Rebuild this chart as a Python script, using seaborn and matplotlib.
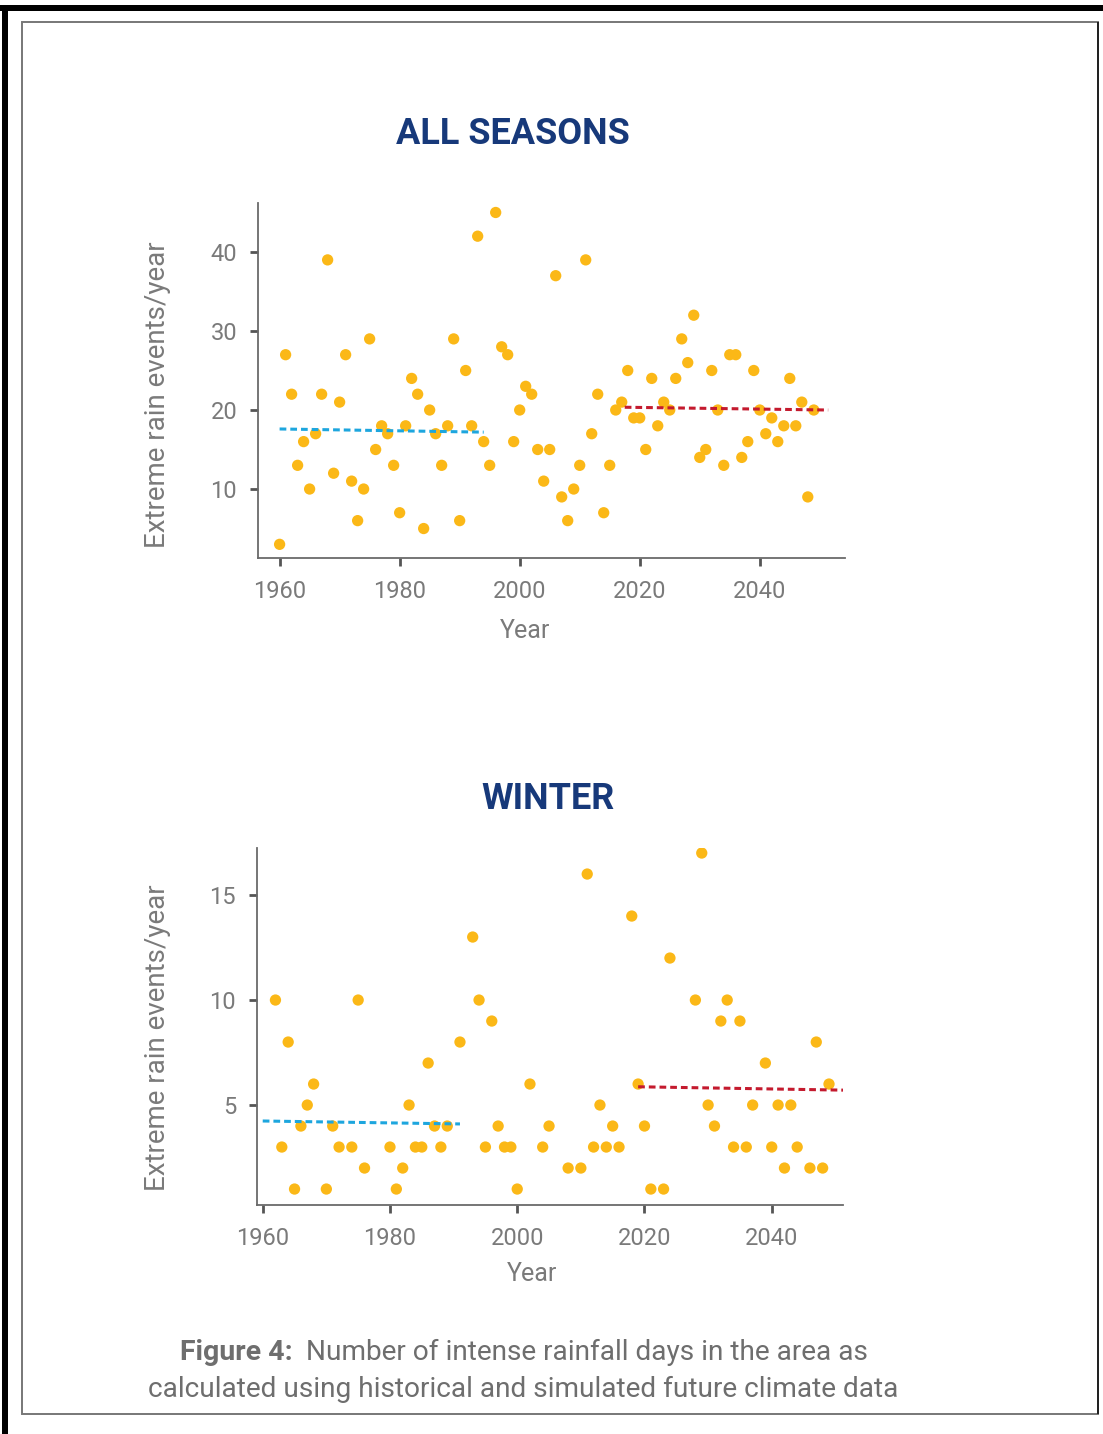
import matplotlib
matplotlib.use("Agg")
import matplotlib.pyplot as plt
import seaborn as sns
import pandas as pd
from matplotlib.patches import Rectangle

# ---------------- data ----------------
years_all = list(range(1960, 2050))
events_all = [3, 27, 22, 13, 16, 10, 17, 22, 39, 12,
              21, 27, 11, 6, 10, 29, 15, 18, 17, 13,
              7, 18, 24, 22, 5, 20, 17, 13, 18, 29,
              6, 25, 18, 42, 16, 13, 45, 28, 27, 16,
              20, 23, 22, 15, 11, 15, 37, 9, 6, 10,
              13, 39, 17, 22, 7, 13, 20, 21, 25, 19,
              19, 15, 24, 18, 21, 20, 24, 29, 26, 32,
              14, 15, 25, 20, 13, 27, 27, 14, 16, 25,
              20, 17, 19, 16, 18, 24, 18, 21, 9, 20]

winter_years = [1962, 1963, 1964, 1965, 1966, 1967, 1968, 1970, 1971, 1972,
                1974, 1975, 1976, 1980, 1981, 1982, 1983, 1984, 1985, 1986,
                1987, 1988, 1989, 1991, 1993, 1994, 1995, 1996, 1997, 1998,
                1999, 2000, 2002, 2004, 2005,
                2008, 2010, 2011, 2012, 2013, 2014, 2015, 2016, 2018, 2019,
                2020, 2021, 2023, 2024, 2028, 2029, 2030, 2031, 2032, 2033,
                2034, 2035, 2036, 2037, 2039, 2040, 2041, 2042, 2043, 2044,
                2046, 2047, 2048, 2049]
winter_events = [10, 3, 8, 1, 4, 5, 6, 1, 4, 3,
                 3, 10, 2, 3, 1, 2, 5, 3, 3, 7,
                 4, 3, 4, 8, 13, 10, 3, 9, 4, 3,
                 3, 1, 6, 3, 4,
                 2, 2, 16, 3, 5, 3, 4, 3, 14, 6,
                 4, 1, 1, 12, 10, 17, 5, 4, 9, 10,
                 3, 9, 3, 5, 7, 3, 5, 2, 5, 3,
                 2, 8, 2, 6]

# historical / future average lines (start, end)
all_hist_years = [1960, 1994]
all_hist_vals = [17.6, 17.2]
all_fut_years = [2017.5, 2051.4]
all_fut_vals = [20.35, 20.0]
win_hist_years = [1960, 1991]
win_hist_vals = [4.24, 4.1]
win_fut_years = [2019.0, 2051.2]
win_fut_vals = [5.87, 5.71]

x_ticks = [1960, 1980, 2000, 2020, 2040]
all_y_ticks = [10, 20, 30, 40]
win_y_ticks = [5, 10, 15]

titles = ["ALL SEASONS", "WINTER"]
y_label = "Extreme rain events/year"
x_label = "Year"
caption_bold = "Figure 4:"
caption_line1 = "Number of intense rainfall days in the area as"
caption_line2 = "calculated using historical and simulated future climate data"

# ---------------- style ----------------
sns.set_style("ticks")
plt.rcParams['font.family'] = ['Roboto', 'DejaVu Sans']

W, H = 1103, 1434
fig = plt.figure(figsize=(W / 100, H / 100), dpi=100)
fig.patch.set_facecolor("white")

DOT = "#FBB817"
BLUE = "#1DA6DE"
RED = "#C41A2E"
NAVY = "#17397A"
GRAY_TXT = "#7a7a7a"
AX_COL = "#6a6a6a"


def px_axes(x0, y0, x1, y1):
    return fig.add_axes([x0 / W, 1 - y1 / H, (x1 - x0) / W, (y1 - y0) / H])


def style_axes(ax, xlim, ylim, yticks):
    ax.set_xlim(*xlim)
    ax.set_ylim(*ylim)
    ax.set_xticks(x_ticks)
    ax.set_yticks(yticks)
    sns.despine(ax=ax)
    for s in ["left", "bottom"]:
        ax.spines[s].set_color(AX_COL)
        ax.spines[s].set_linewidth(1.3)
    ax.tick_params(axis="both", direction="out", length=6, width=2.0,
                   color="#555555", labelcolor=GRAY_TXT, labelsize=17)
    ax.tick_params(axis="x", pad=10)
    ax.tick_params(axis="y", pad=9)
    ax.set_facecolor("white")


def draw_panel(ax, xs, ys, hx, hy, fx, fy):
    sns.scatterplot(x=xs, y=ys, ax=ax, color=DOT, s=66, edgecolor="none",
                    linewidth=0, zorder=3, legend=False)
    sns.lineplot(x=hx, y=hy, ax=ax, color=BLUE, linewidth=2.2,
                 linestyle=(0, (2.2, 1.3)), zorder=4, legend=False)
    sns.lineplot(x=fx, y=fy, ax=ax, color=RED, linewidth=2.2,
                 linestyle=(0, (2.2, 1.3)), zorder=4, legend=False)


# ---- top panel ----
ax1 = px_axes(258, 203, 845, 558)
draw_panel(ax1, years_all, events_all, all_hist_years, all_hist_vals,
           all_fut_years, all_fut_vals)
style_axes(ax1, (1956.4, 2054.2), (1.27, 46.2), all_y_ticks)
ax1.set_ylabel(y_label, fontsize=20, color=GRAY_TXT)
ax1.set_xlabel(x_label, fontsize=18, color=GRAY_TXT)
ax1.yaxis.set_label_coords(-0.148, 0.459)
ax1.xaxis.set_label_coords(0.455, -0.172)

# ---- bottom panel ----
ax2 = px_axes(257, 848, 843, 1205)
draw_panel(ax2, winter_years, winter_events, win_hist_years, win_hist_vals,
           win_fut_years, win_fut_vals)
style_axes(ax2, (1959.1, 2051.2), (0.24, 17.24), win_y_ticks)
ax2.set_ylabel(y_label, fontsize=20, color=GRAY_TXT)
ax2.set_xlabel(x_label, fontsize=18, color=GRAY_TXT)
ax2.yaxis.set_label_coords(-0.147, 0.47)
ax2.xaxis.set_label_coords(0.469, -0.16)

# ---- titles ----
fig.text(513 / W, 1 - 134 / H, titles[0], ha="center", va="center",
         fontsize=26, fontweight="bold", color=NAVY)
fig.text(548 / W, 1 - 799 / H, titles[1], ha="center", va="center",
         fontsize=26, fontweight="bold", color=NAVY)

# ---- caption ----
fig.text(293 / W, 1 - 1352 / H, caption_bold, ha="right", va="center",
         fontsize=20.5, fontweight="bold", color="#6e6e6e")
fig.text(306 / W, 1 - 1352 / H, caption_line1, ha="left", va="center",
         fontsize=20.2, color="#6e6e6e")
fig.text(523 / W, 1 - 1389 / H, caption_line2, ha="center", va="center",
         fontsize=20.2, color="#6e6e6e")

# ---- frames ----
def frame_rect(x0, y0, x1, y1, **kw):
    fig.add_artist(Rectangle((x0 / W, 1 - y1 / H), (x1 - x0) / W, (y1 - y0) / H,
                             transform=fig.transFigure, **kw))

# outer black frame (top and left)
frame_rect(0, 5, W, 11, facecolor="black", edgecolor="none")
frame_rect(2, 5, 8, H, facecolor="black", edgecolor="none")
# inner box
frame_rect(22, 22, 1098, 1414, facecolor="none", edgecolor="#777777", linewidth=1.4)
frame_rect(1096.5, 22, 1099, 1414, facecolor="#222222", edgecolor="none")

fig.savefig("out.png", dpi=100, facecolor="white")
